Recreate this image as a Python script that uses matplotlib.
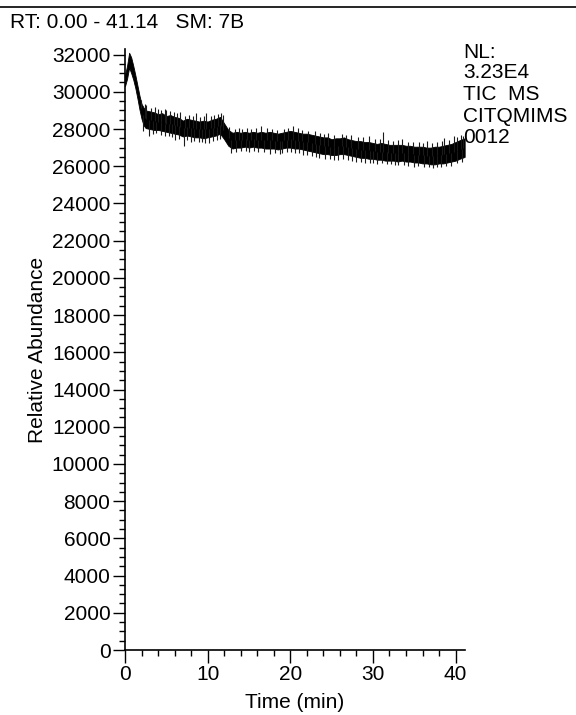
import numpy as np
import matplotlib
matplotlib.use("Agg")
import matplotlib.pyplot as plt
from matplotlib.lines import Line2D
from matplotlib.ticker import MultipleLocator

# core band of the TIC trace (time in min, low / high abundance)
times = [0.0, 0.25, 0.5, 0.75, 1.0, 1.25, 1.5, 1.75, 2.0, 2.25, 2.5,
         3.0, 3.5, 4.0, 4.5, 5.0, 5.5, 6.0, 6.5, 7.0, 7.5, 8.0, 8.5, 9.0, 9.5,
         10.0, 10.5, 11.0, 11.5, 12.0, 12.5, 13.0, 13.5, 14.0, 14.5, 15.0, 15.5,
         16.0, 16.5, 17.0, 17.5, 18.0, 18.5, 19.0, 19.5, 20.0, 20.5, 21.0, 21.5,
         22.0, 22.5, 23.0, 23.5, 24.0, 24.5, 25.0, 25.5, 26.0, 26.5, 27.0, 27.5,
         28.0, 28.5, 29.0, 29.5, 30.0, 30.5, 31.0, 31.5, 32.0, 32.5, 33.0, 33.5,
         34.0, 34.5, 35.0, 35.5, 36.0, 36.5, 37.0, 37.5, 38.0, 38.5, 39.0, 39.5,
         40.0, 40.5, 41.1]
low = [30300, 30700, 31300, 31000, 30650, 30200, 29650, 29050, 28550, 28200, 28050,
       28000, 27950, 27950, 27900, 27850, 27800, 27750, 27700, 27600, 27650, 27600,
       27550, 27550, 27500, 27550, 27600, 27650, 27750, 27450, 27100, 26950, 27000,
       27000, 27050, 27000, 27050, 27000, 27000, 26950, 26950, 26950, 26900, 26950,
       27000, 27000, 26950, 26950, 26900, 26850, 26800, 26750, 26700, 26650, 26650,
       26600, 26600, 26650, 26650, 26600, 26550, 26500, 26450, 26450, 26400, 26400,
       26350, 26350, 26300, 26300, 26300, 26250, 26300, 26250, 26250, 26200, 26200,
       26150, 26150, 26100, 26100, 26150, 26150, 26200, 26250, 26300, 26400, 26500]
high = [30900, 31400, 32100, 31850, 31400, 30900, 30350, 29800, 29350, 29150, 29000,
        28950, 28900, 28800, 28850, 28700, 28750, 28650, 28600, 28450, 28550, 28500,
        28450, 28400, 28450, 28400, 28500, 28550, 28650, 28300, 27950, 27800, 27850,
        27800, 27850, 27800, 27850, 27800, 27850, 27800, 27850, 27800, 27750, 27800,
        27850, 27900, 27850, 27800, 27750, 27750, 27700, 27650, 27600, 27550, 27550,
        27450, 27500, 27500, 27550, 27450, 27400, 27350, 27350, 27300, 27300, 27250,
        27200, 27250, 27200, 27150, 27150, 27150, 27150, 27100, 27100, 27050, 27050,
        27050, 27000, 27000, 27050, 27050, 27100, 27150, 27200, 27300, 27400, 27500]

# single spikes sticking out of the band
up_t = [1.9, 2.4, 2.6, 3.1, 3.6, 4.0, 4.4, 4.8, 5.0, 5.4, 5.9, 6.3, 6.6, 7.2, 7.7,
        8.2, 8.6, 9.1, 9.5, 9.8, 10.4, 10.8, 11.2, 11.6, 11.9, 12.6, 13.3, 13.8,
        14.2, 14.8, 15.3, 15.8, 16.5, 17.2, 17.8, 18.4, 19.2, 19.7, 20.3, 20.9,
        21.4, 22.2, 23.0, 23.6, 24.1, 24.6, 25.3, 26.2, 26.8, 27.3, 28.2, 28.8,
        29.5, 30.2, 30.8, 31.2, 31.8, 32.4, 33.0, 33.5, 34.2, 34.8, 35.6, 36.0,
        36.5, 37.2, 37.8, 38.3, 38.6, 39.2, 39.8, 40.2, 40.6, 40.9]
up_v = [29550, 29350, 29310, 29150, 29200, 29100, 29000, 29050, 29000, 28950, 28900,
        28850, 28900, 28700, 28750, 28700, 28850, 28650, 28700, 28850, 28700, 28750,
        28800, 28860, 28750, 28100, 28000, 28050, 28000, 28050, 28000, 28050, 28150,
        28050, 28000, 27950, 28000, 28050, 28150, 28050, 27950, 27900, 27900, 27800,
        27750, 27800, 27700, 27750, 27700, 27700, 27550, 27550, 27600, 27450, 27450,
        27850, 27400, 27350, 27400, 27450, 27300, 27300, 27300, 27250, 27350, 27250,
        27300, 27350, 27500, 27400, 27600, 27550, 27700, 27650]
down_t = [2.2, 2.9, 3.4, 3.8, 4.3, 4.9, 5.3, 5.7, 6.0, 6.5, 7.1, 7.5, 8.0, 8.4, 8.9,
          9.3, 9.7, 10.2, 10.6, 11.1, 11.5, 12.8, 13.4, 14.0, 14.6, 15.0, 15.6,
          16.1, 16.8, 17.5, 18.2, 18.7, 19.0, 19.6, 20.1, 20.6, 21.1, 21.5, 22.0,
          22.6, 23.1, 23.5, 24.2, 24.8, 25.3, 25.8, 26.4, 27.0, 27.5, 28.0, 28.6,
          29.0, 29.6, 30.0, 30.5, 31.1, 31.7, 32.2, 32.7, 33.0, 33.8, 34.3, 35.0,
          35.5, 36.2, 36.8, 37.3, 37.8, 38.2, 38.8, 39.5, 40.2, 40.8]
down_v = [27900, 27600, 27750, 27800, 27700, 27650, 27600, 27550, 27400, 27450, 27070,
          27400, 27300, 27350, 27300, 27300, 27250, 27250, 27350, 27400, 27450, 26700,
          26750, 26800, 26800, 26750, 26800, 26750, 26750, 26650, 26700, 26650, 26700,
          26750, 26750, 26700, 26700, 26600, 26600, 26550, 26500, 26450, 26400, 26400,
          26350, 26350, 26400, 26350, 26300, 26250, 26250, 26200, 26150, 26200, 26100,
          26150, 26100, 26100, 26050, 26050, 26050, 26000, 25950, 26000, 25950, 25950,
          25900, 25950, 25950, 26000, 26000, 26150, 26250]

W, H = 576, 715
fig = plt.figure(figsize=(W / 100, H / 100), dpi=100)
plt.rcParams['font.family'] = ['Liberation Sans', 'DejaVu Sans']
fs = 15

ax = fig.add_axes([125 / W, 1 - 650 / H, 340 / W, 601 / H])
ax.fill_between(times, low, high, color='black', lw=0.6)
mid = (np.array(low) + np.array(high)) / 2
ax.vlines(up_t, np.interp(up_t, times, mid), up_v, color='0.1', lw=0.8)
ax.vlines(down_t, np.interp(down_t, times, mid), down_v, color='0.1', lw=0.8)

ax.set_xlim(0, 41.14)
ax.set_ylim(0, 32300)
ax.spines['top'].set_visible(False)
ax.spines['right'].set_visible(False)
for s in ('left', 'bottom'):
    ax.spines[s].set_linewidth(1.2)
ax.xaxis.set_major_locator(MultipleLocator(10))
ax.xaxis.set_minor_locator(MultipleLocator(2))
ax.yaxis.set_major_locator(MultipleLocator(2000))
ax.yaxis.set_minor_locator(MultipleLocator(500))
ax.tick_params(which='major', length=9, width=1.0, labelsize=fs, pad=2)
ax.tick_params(which='minor', length=4.5, width=1.0)
ax.tick_params(axis='y', pad=1.5)

fig.text(295 / W, 1 - 703 / H, 'Time (min)', ha='center', va='center', fontsize=fs)
fig.text(38 / W, 1 - 350 / H, 'Relative Abundance', ha='center', va='center',
         rotation=90, fontsize=fs)

fig.text(10 / W, 1 - 28 / H, 'RT: 0.00 - 41.14   SM: 7B', fontsize=fs, va='baseline')
side = ['NL:', '3.23E4', 'TIC  MS', 'CITQMIMS', '0012']
baselines = [58, 78, 100, 122, 143]
for txt, yb in zip(side, baselines):
    fig.text(463 / W, 1 - yb / H, txt, fontsize=fs, va='baseline')

fig.add_artist(Line2D([0, 1], [1 - 7 / H, 1 - 7 / H], transform=fig.transFigure,
                      color='black', lw=1.2))

fig.savefig('out.png', dpi=100)
